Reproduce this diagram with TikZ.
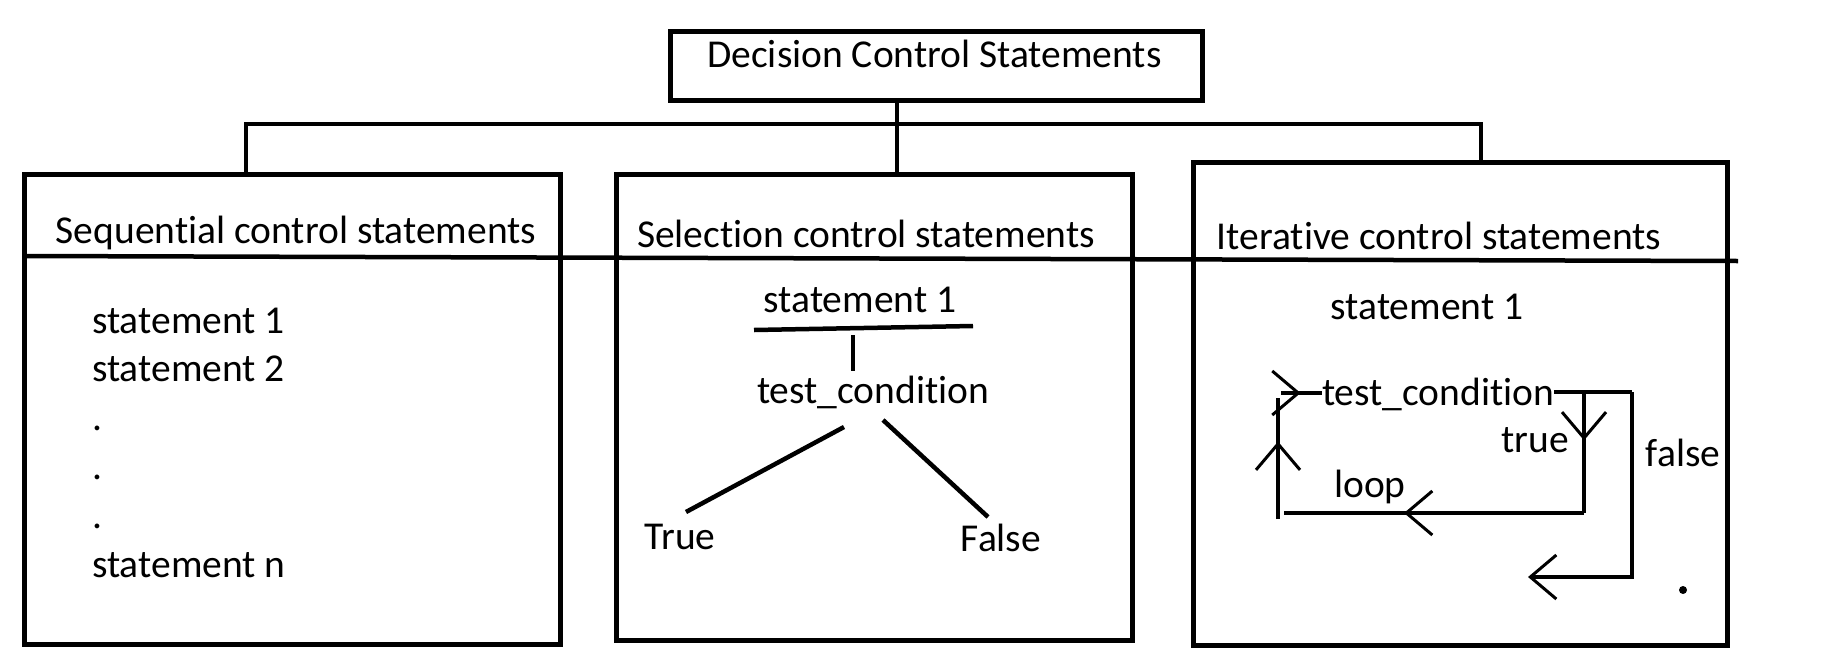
\documentclass[tikz,border=0pt]{standalone}
\usepackage{fontspec}
\setmainfont{Carlito}[Ligatures={NoCommon}]
\usetikzlibrary{arrows.meta,decorations.markings}
\tikzset{
  txt/.style={font=\fontsize{39.5pt}{48.8pt}\selectfont, inner sep=0pt, anchor=base},
  box/.style={draw, line width=5pt, inner sep=0pt},
  link/.style={line width=4.5pt},
  hand/.tip={Straight Barb[length=26pt,width=44pt,line width=3pt]},
  midarrow/.style={postaction={decorate},
    decoration={markings, mark=at position #1 with {\arrow{hand}}}},
  dotmark/.style={circle, fill, inner sep=0pt, minimum size=8pt},
}
\begin{document}
\begin{tikzpicture}[x=1pt, y=-1pt]
\useasboundingbox (0,0) rectangle (1843,648);
\node[box, minimum width=532pt, minimum height=69pt] (top) at (936,65.5) {};
\node[box, minimum width=536pt, minimum height=470pt] (seq) at (292,409) {};
\node[box, minimum width=516pt, minimum height=466pt] (sel) at (874,407) {};
\node[box, minimum width=534pt, minimum height=483pt] (iter) at (1460,403.5) {};
\node[txt] (toptitle) at (934.5,67) {Decision Control Statements};
\node[txt] (seqtitle) at (296,243) {Sequential control statements};
\node[txt] (seltitle) at (866,247) {Selection control statements};
\node[txt] (itertitle) at (1439,249) {Iterative control statements};
\coordinate (divL) at (24,256);
\coordinate (divR) at (1738,261);
\draw[link] (divL) -- (divR);
% top level
\coordinate (stem) at (897,0);
\coordinate (barL) at (246,124);
\coordinate (barR) at (1481,124);
\draw[link] (top.south -| stem) -- (sel.north -| stem);
\draw[link] (seq.north -| barL) -- (barL) -- (barR) -- (iter.north -| barR);
% sequential
\foreach \s [count=\i] in {statement 1, statement 2, ., ., ., statement n}
  \node[txt, anchor=base west] (seq\i) at (92,{333+48.8*(\i-1)}) {\s};
% selection
\node[txt] (selstmt) at (860,312) {statement 1};
\node[txt] (selcond) at (873,403) {test\_condition};
\node[txt] (seltrue) at (680,549) {True};
\node[txt] (selfalse) at (1001,551) {False};
\coordinate (ulL) at (754,330);
\coordinate (ulR) at (973,326);
\draw[link] (ulL) -- (ulR);
\coordinate (sdT) at (853,335);
\coordinate (sdB) at (853,371);
\draw[link] (sdT) -- (sdB);
\coordinate (brT) at (844,427);
\coordinate (brTe) at (686,512);
\coordinate (brF) at (883,420);
\coordinate (brFe) at (988,517);
\draw[link] (brT) -- (brTe);
\draw[link] (brF) -- (brFe);
% iterative
\node[txt] (iterstmt) at (1427,319) {statement 1};
\node[txt] (itercond) at (1438,405) {test\_condition};
\node[txt] (itertrue) at (1535,452) {true};
\node[txt] (iterloop) at (1370,497) {loop};
\node[txt] (iterfalse) at (1683,466) {false};
\node[dotmark] (iterdot) at (1683,590) {};
\coordinate (inL) at (1281,393);
\coordinate (tT) at (1584,392);
\coordinate (tB) at (1584,513);
\coordinate (lB) at (1284,513);
\coordinate (upB) at (1278,519);
\coordinate (upT) at (1278,398);
\coordinate (fT) at (1632,392);
\coordinate (fB) at (1632,577);
\coordinate (fE) at (1528,577);
\draw[link, midarrow=0.48] (inL) -- (inL -| itercond.west);
\draw[link] (itercond.east |- fT) -- (fT);
\draw[link, midarrow=0.4] (tT) -- (tB);
\draw[link, midarrow=0.6] (tB) -- (lB);
\draw[link, midarrow=0.64] (upB) -- (upT);
\draw[link, -{hand}] (fT) -- (fB) -- (fE);
\end{tikzpicture}
\end{document}
